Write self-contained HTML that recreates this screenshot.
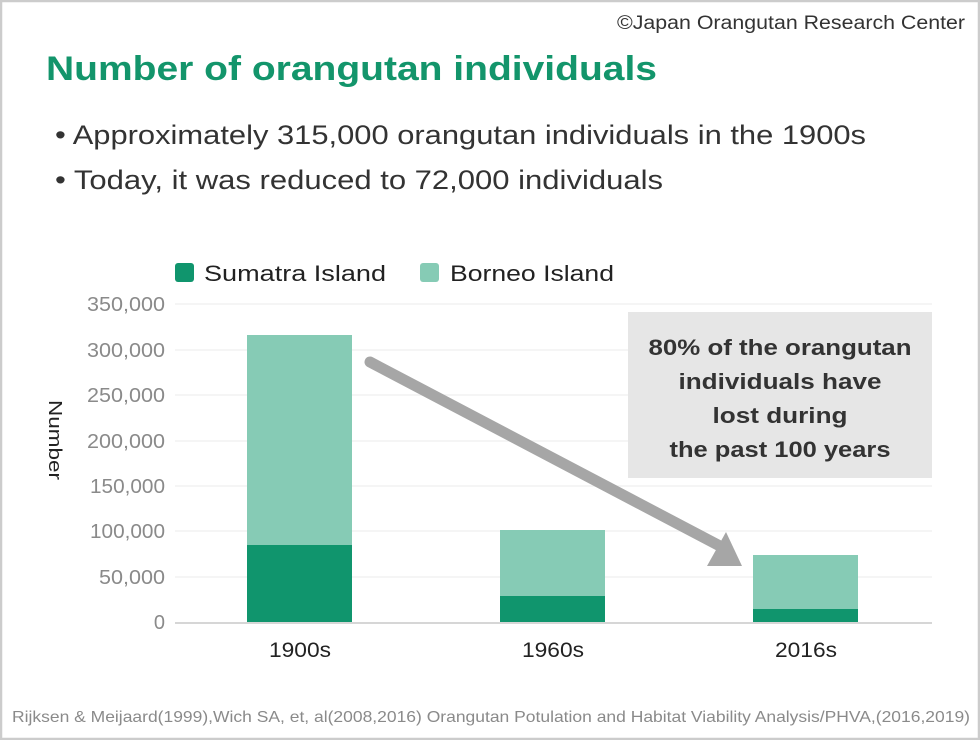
<!DOCTYPE html>
<html><head><style>
body{margin:0;background:#fff;}
svg{display:block;}
</style></head><body>
<svg width="980" height="740" viewBox="0 0 980 740" xmlns="http://www.w3.org/2000/svg" font-family="'Liberation Sans', sans-serif">
<rect x="1" y="1" width="978" height="738" fill="#fff" stroke="#cccccc" stroke-width="2.5"/>
<text x="617" y="29" textLength="348" lengthAdjust="spacingAndGlyphs" font-size="19" fill="#333">©Japan Orangutan Research Center</text>
<text x="46" y="80" textLength="611" lengthAdjust="spacingAndGlyphs" font-size="34" font-weight="bold" fill="#13956b">Number of orangutan individuals</text>
<text x="55" y="144" textLength="811" lengthAdjust="spacingAndGlyphs" font-size="27" fill="#333">• Approximately 315,000 orangutan individuals in the 1900s</text>
<text x="55" y="189" textLength="608" lengthAdjust="spacingAndGlyphs" font-size="27" fill="#333">• Today, it was reduced to 72,000 individuals</text>
<rect x="175" y="263" width="19" height="19" rx="3" fill="#10956d"/>
<text x="204" y="281" textLength="182" lengthAdjust="spacingAndGlyphs" font-size="22" fill="#222">Sumatra Island</text>
<rect x="420" y="263" width="19" height="19" rx="3" fill="#86cbb5"/>
<text x="450" y="281" textLength="164" lengthAdjust="spacingAndGlyphs" font-size="22" fill="#222">Borneo Island</text>
<g stroke="#f2f2f2" stroke-width="1.5">
<line x1="175" y1="304" x2="932" y2="304"/><line x1="175" y1="350" x2="932" y2="350"/>
<line x1="175" y1="395" x2="932" y2="395"/><line x1="175" y1="441" x2="932" y2="441"/>
<line x1="175" y1="486" x2="932" y2="486"/><line x1="175" y1="531" x2="932" y2="531"/>
<line x1="175" y1="577" x2="932" y2="577"/>
</g>
<g font-size="20" fill="#8a8a8a" text-anchor="end" lengthAdjust="spacingAndGlyphs">
<text x="165" y="311" textLength="78" lengthAdjust="spacingAndGlyphs">350,000</text><text x="165" y="357" textLength="78" lengthAdjust="spacingAndGlyphs">300,000</text>
<text x="165" y="402" textLength="78" lengthAdjust="spacingAndGlyphs">250,000</text><text x="165" y="448" textLength="78" lengthAdjust="spacingAndGlyphs">200,000</text>
<text x="165" y="493" textLength="75" lengthAdjust="spacingAndGlyphs">150,000</text><text x="165" y="538" textLength="75" lengthAdjust="spacingAndGlyphs">100,000</text>
<text x="165" y="584" textLength="66" lengthAdjust="spacingAndGlyphs">50,000</text><text x="165" y="629">0</text>
</g>
<text transform="translate(49,440) rotate(90)" text-anchor="middle" font-size="18" textLength="80" lengthAdjust="spacingAndGlyphs" fill="#222">Number</text>
<rect x="247" y="335" width="105" height="210" fill="#86cbb5"/>
<rect x="247" y="545" width="105" height="77" fill="#10956d"/>
<rect x="500" y="530" width="105" height="66" fill="#86cbb5"/>
<rect x="500" y="596" width="105" height="26" fill="#10956d"/>
<rect x="753" y="555" width="105" height="54" fill="#86cbb5"/>
<rect x="753" y="609" width="105" height="13" fill="#10956d"/>
<line x1="175" y1="623" x2="932" y2="623" stroke="#d6d6d6" stroke-width="2"/>
<g font-size="21" fill="#222" text-anchor="middle">
<text x="300" y="657" textLength="62" lengthAdjust="spacingAndGlyphs">1900s</text><text x="553" y="657" textLength="62" lengthAdjust="spacingAndGlyphs">1960s</text><text x="806" y="657" textLength="62" lengthAdjust="spacingAndGlyphs">2016s</text>
</g>
<rect x="628" y="312" width="304" height="166" fill="#e6e6e6"/>
<g font-size="22" font-weight="bold" fill="#333" text-anchor="middle">
<text x="780" y="355" textLength="263" lengthAdjust="spacingAndGlyphs">80% of the orangutan</text>
<text x="780" y="389" textLength="203" lengthAdjust="spacingAndGlyphs">individuals have</text>
<text x="780" y="423" textLength="135" lengthAdjust="spacingAndGlyphs">lost during</text>
<text x="780" y="457" textLength="221" lengthAdjust="spacingAndGlyphs">the past 100 years</text>
</g>
<line x1="370" y1="362" x2="718" y2="545" stroke="#a6a6a6" stroke-width="11" stroke-linecap="round"/>
<polygon points="742,566 707,566 726,532" fill="#a6a6a6"/>
<text x="12" y="722" textLength="958" lengthAdjust="spacingAndGlyphs" font-size="16" fill="#8a8a8a">Rijksen &amp; Meijaard(1999),Wich SA, et, al(2008,2016) Orangutan Potulation and Habitat Viability Analysis/PHVA,(2016,2019)</text>
</svg>
</body></html>
